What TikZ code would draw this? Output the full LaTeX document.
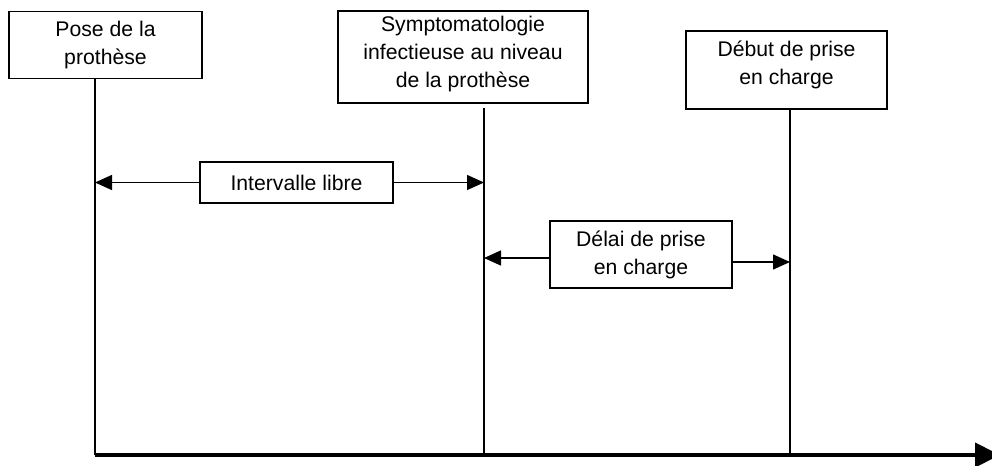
\documentclass[tikz,border=0pt]{standalone}
\usepackage{fontspec}
\setmainfont{Liberation Sans}
\usetikzlibrary{arrows.meta}

\begin{document}
\begin{tikzpicture}[x=0.5pt,y=-0.5pt,line width=0.7pt,
    >={Triangle[length=8.5pt,width=7.5pt]},
    event node/.style={draw,align=center,inner sep=0pt,font=\fontsize{10.6}{14}\selectfont},
    span node/.style={event node,fill=white},
    time line/.style={line width=0.7pt}
    ]
  \useasboundingbox[fill=white] (0,0) rectangle (992,466);

  \node[event node,minimum width=96.5pt,minimum height=33.5pt] (pose) at (105.5,45) {Pose de la\\prothèse};
  \node[event node,minimum width=125pt,minimum height=46pt,text depth=5.5pt] (symp) at (463,57) {Symptomatologie\\infectieuse au niveau\\de la prothèse};
  \node[event node,minimum width=100.5pt,minimum height=39pt,text depth=7pt] (debut) at (786.5,70) {Début de prise\\en charge};

  \node[span node,minimum width=96.5pt,minimum height=20.5pt] (libre) at (296.5,182.5) {Intervalle libre};
  \node[span node,minimum width=91pt,minimum height=33.5pt] (delai) at (641,254.5) {Délai de prise\\en charge};

  \coordinate (t1) at (95,455);
  \coordinate (t2) at (484,455);
  \coordinate (t3) at (790,455);
  \coordinate (fin) at (1000,455);

  % lignes de temps
  \draw[time line] (t1) -- (t1 |- pose.south);
  \draw[time line] (t2) -- ([yshift=-2pt]t2 |- symp.south);
  \draw[time line] (t3) -- ([yshift=0.5pt]t3 |- debut.south);

  \path[->] (libre.west) edge (libre.west -| t1)
            (libre.east) edge (libre.east -| t2)
            ([yshift=-1.75pt]delai.west) edge ([yshift=-1.75pt]delai.west -| t2)
            ([yshift=-3.75pt]delai.east) edge ([yshift=-3.75pt]delai.east -| t3);

  % axe du temps
  \draw[-{Triangle[length=12.5pt,width=12pt]},line width=2pt] (t1) -- (fin);
\end{tikzpicture}
\end{document}
